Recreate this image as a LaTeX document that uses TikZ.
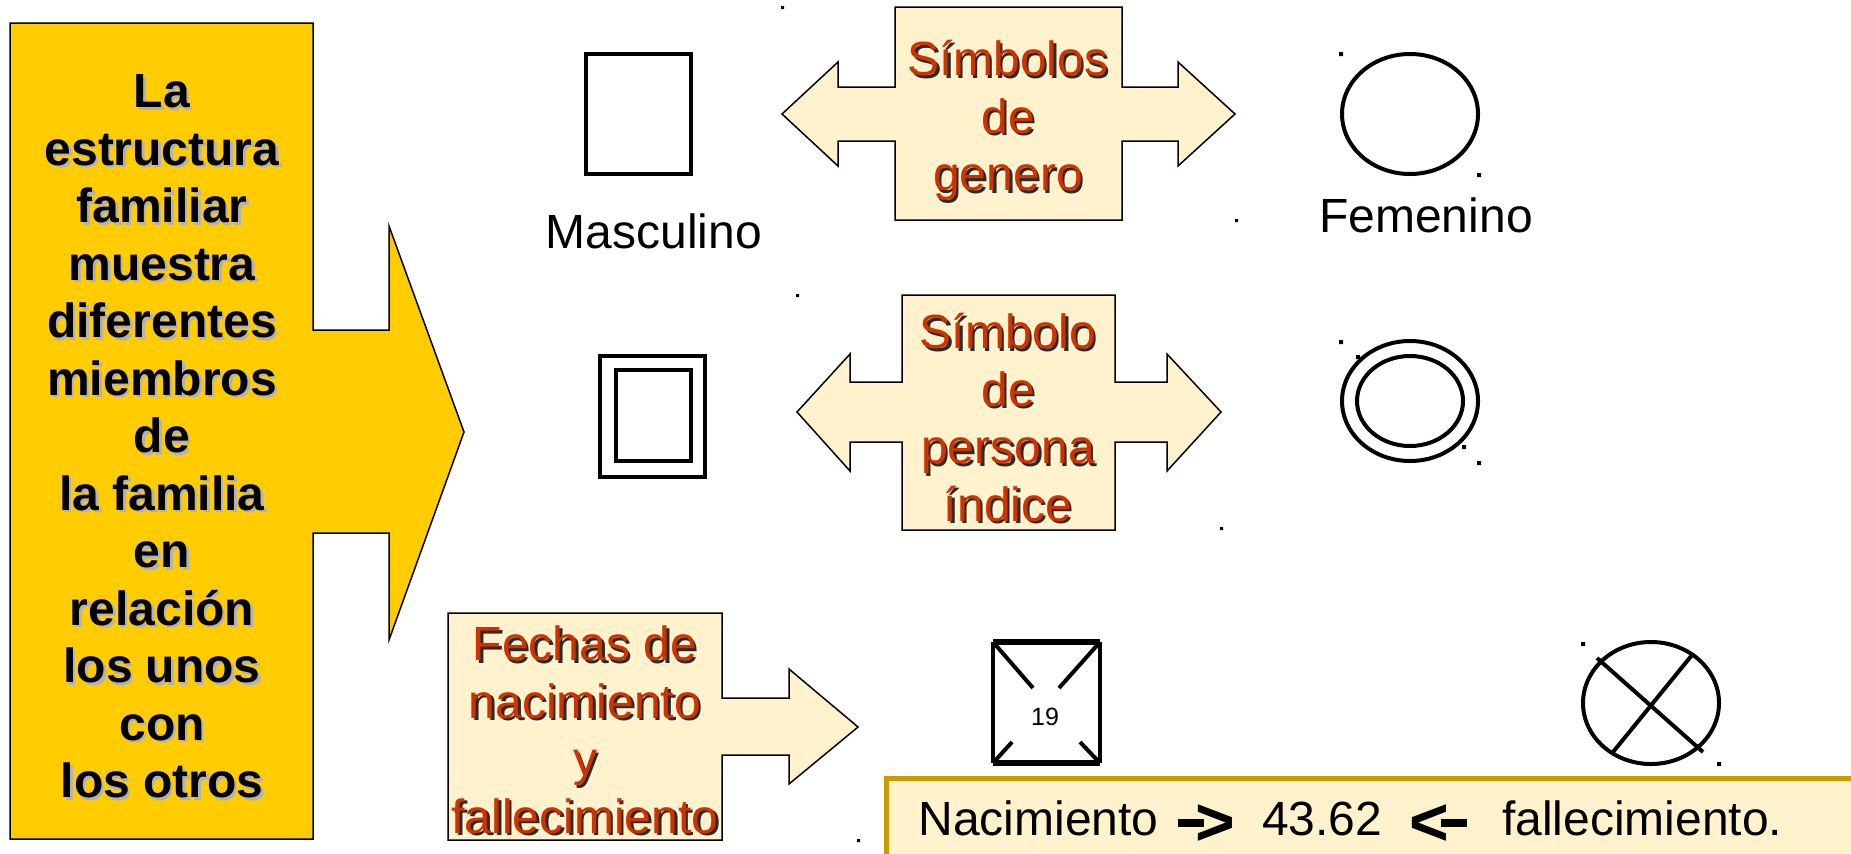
\documentclass[tikz,border=0pt]{standalone}
\usepackage{fontspec}
\setmainfont{Liberation Sans}
\usepackage{xcolor}
\usepackage{tikz}
\definecolor{gold}{HTML}{FFCC00}
\definecolor{cream}{HTML}{FFF2CC}
\definecolor{rust}{HTML}{CC3300}
\definecolor{ochre}{HTML}{CC9900}
\definecolor{shadeG}{HTML}{B2B2B2}
\definecolor{shadeD}{HTML}{2B2B2B}
\newcommand{\shtext}[2]{\makebox[0pt][l]{\kern1.3pt\raisebox{-1.3pt}{\textcolor{#1}{#2}}}#2}
\newcommand{\gsh}[1]{\shtext{shadeG}{#1}}
\newcommand{\rsh}[1]{\shtext{shadeD}{#1}}
\newcommand{\rarr}{\rule[4pt]{13pt}{4pt}\kern-4pt\smash{\raisebox{-5pt}{\fontsize{34pt}{34pt}\selectfont\bfseries >}}}
\newcommand{\larr}{\smash{\raisebox{-5pt}{\fontsize{34pt}{34pt}\selectfont\bfseries <}}\kern-4pt\rule[4pt]{13pt}{4pt}}
\tikzset{
  callout/.style={fill=gold, draw=black, line width=0.75pt, line join=miter},
  arrowbox/.style={fill=cream, draw=black, line width=0.75pt, line join=miter},
  sym/.style={draw=black, line width=2pt},
  symthick/.style={draw=black, line width=3pt},
  lab/.style={font=\fontsize{24pt}{28.75pt}\selectfont, inner sep=0pt},
  boldlab/.style={lab, font=\fontsize{24pt}{28.75pt}\selectfont\bfseries, align=center, anchor=north},
  redlab/.style={lab, text=rust, align=center, anchor=north},
  handle/.style={fill=black}
}
\begin{document}
\begin{tikzpicture}[x=0.5pt, y=-0.5pt]
  \useasboundingbox (0,0) rectangle (1851,853);

  % left callout
  \draw[callout] (10,23) -- (313,23) -- (313,330) -- (389,330) -- (389,226) -- (464,432)
    -- (389,640) -- (389,533) -- (313,533) -- (313,839) -- (10,839) -- cycle;
  \node[boldlab] (estructura) at (162,67) {\strut\gsh{La}\\ \gsh{estructura}\\ \gsh{familiar}\\
    \gsh{muestra}\\ \gsh{diferentes}\\ \gsh{miembros}\\ \gsh{de}\\ \gsh{la familia}\\ \gsh{en}\\
    \gsh{relación}\\ \gsh{los unos}\\ \gsh{con}\\ \gsh{los otros}};

  % gender symbols
  \draw[arrowbox] (895,7) -- (1122,7) -- (1122,87) -- (1178,87) -- (1178,62) -- (1235,114)
    -- (1178,166) -- (1178,141) -- (1122,141) -- (1122,220) -- (895,220) -- (895,141)
    -- (838,141) -- (838,166) -- (782,114) -- (838,62) -- (838,87) -- (895,87) -- cycle;
  \node[redlab] (genero) at (1008,35) {\strut\rsh{Símbolos}\\ \rsh{de}\\ \rsh{genero}};
  \draw[sym] (586,54) rectangle (691,174);
  \node[lab, anchor=base] (masculino) at (654,248) {Masculino};
  \draw[sym] (1410,114) ellipse [x radius=68, y radius=60];
  \node[lab, anchor=base] (femenino) at (1426,232) {Femenino};

  % index person
  \draw[arrowbox] (902,295) -- (1115,295) -- (1115,382) -- (1167,382) -- (1167,354) -- (1221,412)
    -- (1167,471) -- (1167,442) -- (1115,442) -- (1115,530) -- (902,530) -- (902,442)
    -- (850,442) -- (850,471) -- (797,412) -- (850,354) -- (850,382) -- (902,382) -- cycle;
  \node[redlab] (indice) at (1008,308) {\strut\rsh{Símbolo}\\ \rsh{de}\\ \rsh{persona}\\ \rsh{índice}};
  \draw[sym] (600,356) rectangle (705,477);
  \draw[sym] (616,370) rectangle (691,461);
  \draw[sym] (1410,401) ellipse [x radius=68, y radius=60];
  \draw[sym] (1410,401) ellipse [x radius=53, y radius=45];

  % dates
  \draw[arrowbox] (448,613) -- (722,613) -- (722,698) -- (789,698) -- (789,669) -- (858,727)
    -- (789,784) -- (789,755) -- (722,755) -- (722,840) -- (448,840) -- cycle;
  \node[redlab] (fechas) at (585,620) {\strut\rsh{Fechas de}\\ \rsh{nacimiento}\\ \rsh{y}\\ \rsh{fallecimiento}};
  \draw[sym] (993,642) -- (993,763) (1100,642) -- (1100,763);
  \draw[symthick] (993,642) -- (1100,642) (993,763) -- (1100,763);
  \draw[sym] (993,642) -- (1033,688) (1100,642) -- (1059,688)
    (993,763) -- (1012,742) (1100,763) -- (1080,742);
  \node[font=\fontsize{12.5pt}{14pt}\selectfont, inner sep=0pt] (anio) at (1045,717) {19};
  \draw[sym] (1651,703) ellipse [x radius=68, y radius=61];
  \draw[sym] (1597,658) -- (1703,752) (1692,655) -- (1613,752);

  % date line
  \draw[line width=2.5pt, draw=ochre, fill=cream] (886,778) rectangle (1880,880);
  \node[lab, anchor=base west] (edad) at (918,835)
    {Nacimiento\hspace{9.5pt}\rarr\hspace{13.5pt}43.62\hspace{13.5pt}\larr\hspace{17.5pt}fallecimiento.};

  % selection handles
  \path[handle] (781,6) rectangle ++(3,3) (1235,219) rectangle ++(3,3)
    (796,294) rectangle ++(3,3) (1220,527) rectangle ++(3,3) (857,839) rectangle ++(3,3);
  \path[handle] (1339,52) rectangle ++(4,4) (1477,173) rectangle ++(4,4)
    (1339,340) rectangle ++(4,4) (1356,355) rectangle ++(4,4)
    (1462,445) rectangle ++(4,4) (1477,461) rectangle ++(4,4)
    (1581,642) rectangle ++(4,4) (1717,762) rectangle ++(4,4);
\end{tikzpicture}
\end{document}
